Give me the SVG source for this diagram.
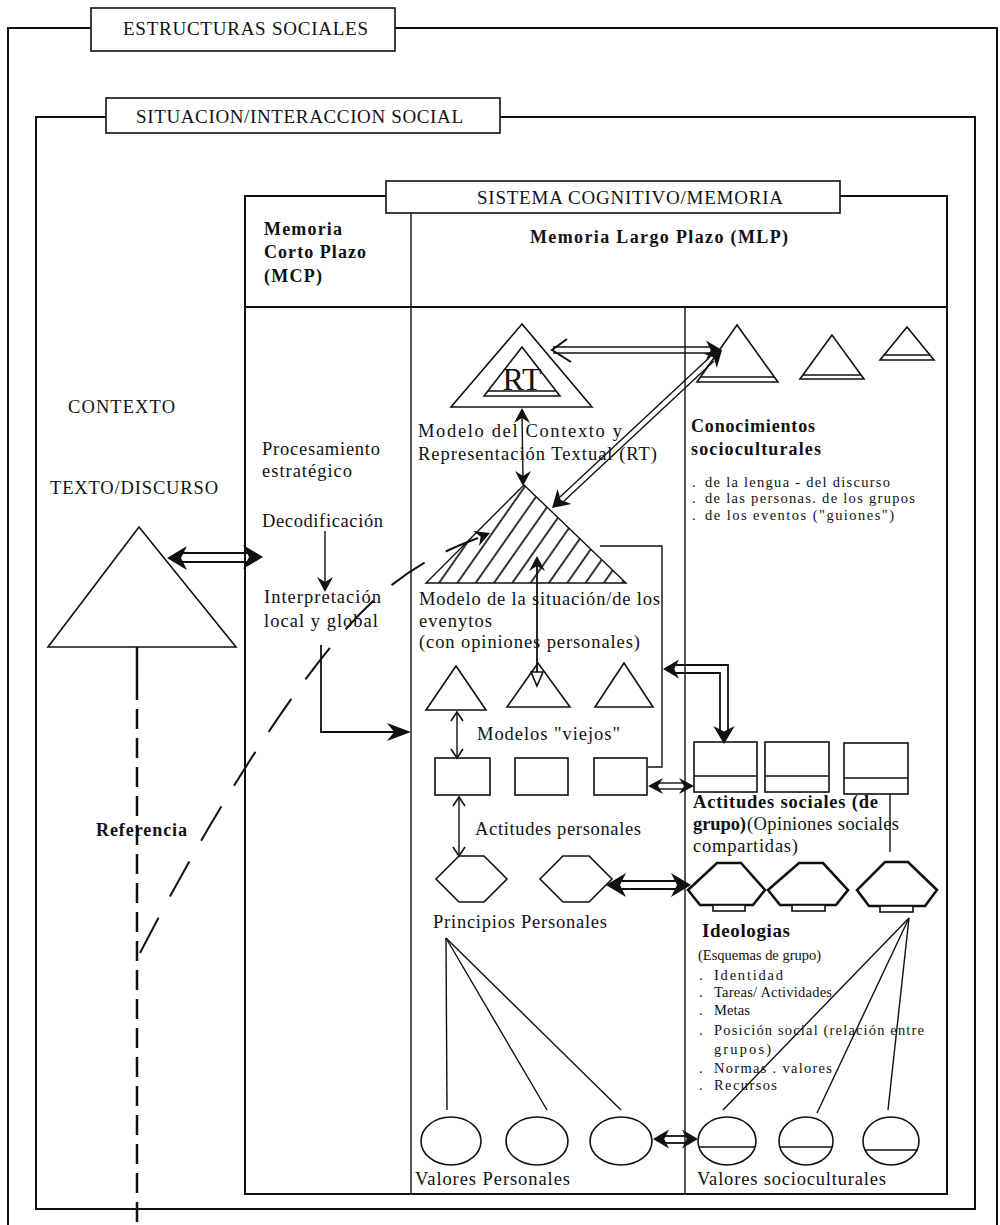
<svg xmlns="http://www.w3.org/2000/svg" xmlns:xlink="http://www.w3.org/1999/xlink" width="1000" height="1225" viewBox="0 0 1000 1225">
<style>
.fr{fill:none;stroke:#111;stroke-width:2}
.ln{fill:none;stroke:#111;stroke-width:1.4}
.ln2{fill:none;stroke:#111;stroke-width:1.8}
.sh{fill:#fff;stroke:#111;stroke-width:1.6}
.bx{fill:#fff;stroke:#111;stroke-width:1.6}
.hx{fill:#fff;stroke:#111;stroke-width:2.6}
.t{font-family:"Liberation Serif","Times New Roman",serif;fill:#111;font-size:18.5px}
.ti{font-size:19px}
.b{font-weight:bold}
.b17{font-size:18px}
.b18{font-size:18px}
.sm{font-size:14.5px}
.hd{fill:#111}
</style>
<defs>
<path id="hd" d="M0,0 L-20,-12 L-14,0 L-20,12 Z"/>
<path id="hs" d="M0,0 L-15,-8 L-10,0 L-15,8 Z"/>
<path id="hv" d="M-9,-6 L0,0 L-9,6" fill="none" stroke="#111" stroke-width="1.6"/>
<pattern id="hatch" patternUnits="userSpaceOnUse" width="15" height="15" patternTransform="rotate(35)">
<line x1="4" y1="0" x2="4" y2="15" stroke="#111" stroke-width="1.7"/>
</pattern>
</defs>
<rect width="1000" height="1225" fill="#fff"/>

<g id="frame-estructuras">
<path class="fr" d="M91,28 H8 V1225 M395,28 H997 V1225"/>
<rect class="bx" x="91" y="8" width="304" height="43"/>
<text class="t ti" x="123" y="35" textLength="245">ESTRUCTURAS SOCIALES</text>
</g>

<g id="frame-situacion">
<path class="fr" d="M106,117 H36 V1209 H975 V117 H500"/>
<rect class="bx" x="106" y="98" width="394" height="35"/>
<text class="t ti" x="136" y="123" textLength="327">SITUACION/INTERACCION SOCIAL</text>
</g>

<g id="frame-sistema">
<path class="fr" d="M386,196 H245 V1194 H947 V196 H840"/>
<line class="ln" x1="411" y1="213" x2="411" y2="1194"/>
<line class="ln2" x1="245" y1="307" x2="947" y2="307"/>
<line class="ln" x1="685" y1="307" x2="685" y2="1194"/>
<rect class="bx" x="386" y="181" width="454" height="32"/>
<text class="t ti" x="477" y="204" textLength="306">SISTEMA COGNITIVO/MEMORIA</text>
<text class="t b b17" x="264" y="235" textLength="78">Memoria</text>
<text class="t b b17" x="264" y="258" textLength="102">Corto Plazo</text>
<text class="t b b17" x="264" y="282" textLength="58">(MCP)</text>
<text class="t b b18" x="530" y="243" textLength="258">Memoria Largo Plazo (MLP)</text>
</g>

<g id="texto-discurso">
<text class="t" x="68" y="413" textLength="107">CONTEXTO</text>
<text class="t" x="50" y="494" textLength="168">TEXTO/DISCURSO</text>
<polygon class="sh" points="139,527 48,647 236,647"/>
<text class="t b b17" x="96" y="836" textLength="91">Referencia</text>
</g>

<g id="mcp">
<text class="t" x="262" y="455" textLength="118">Procesamiento</text>
<text class="t" x="262" y="477" textLength="90">estratégico</text>
<text class="t" x="262" y="527" textLength="121">Decodificación</text>
<text class="t" x="264" y="603" textLength="117">Interpretación</text>
<text class="t" x="264" y="627" textLength="114">local y global</text>
</g>

<g id="modelo-contexto">
<polygon class="sh" points="522,324 451,407 592,407" stroke-width="2"/>
<polygon class="sh" points="522,347 484,396 560,396"/>
<line class="ln" x1="488" y1="391" x2="556" y2="391"/>
<text class="t" x="522" y="390" style="font-size:32px" text-anchor="middle">RT</text>
<text class="t" x="418" y="437" textLength="204">Modelo del Contexto y</text>
<text class="t" x="418" y="460" textLength="239">Representación Textual (RT)</text>
</g>

<g id="conocimientos">
<polygon class="sh" points="737,325 697,382 778,382"/>
<line class="ln" x1="700" y1="377" x2="774" y2="377"/>
<polygon class="sh" points="832,335 800,379 864,379"/>
<line class="ln" x1="803" y1="375" x2="861" y2="375"/>
<polygon class="sh" points="907,327 880,360 934,360"/>
<line class="ln" x1="884" y1="355" x2="930" y2="355"/>
<text class="t b b18" x="691" y="432" textLength="124">Conocimientos</text>
<text class="t b b18" x="691" y="455" textLength="130">socioculturales</text>
<text class="t sm" x="692" y="487">.</text>
<text class="t sm" x="705" y="487" textLength="185">de la lengua - del discurso</text>
<text class="t sm" x="692" y="503">.</text>
<text class="t sm" x="705" y="503" textLength="210">de las personas. de los grupos</text>
<text class="t sm" x="692" y="520">.</text>
<text class="t sm" x="705" y="520" textLength="189">de los eventos ("guiones")</text>
</g>

<g id="modelo-situacion">
<polygon points="524,485 426,583 626,583" fill="url(#hatch)" stroke="#111" stroke-width="1.4"/>
<text class="t" x="419" y="605" textLength="241">Modelo de la situación/de los</text>
<text class="t" x="419" y="627" textLength="73">evenytos</text>
<text class="t" x="419" y="648" textLength="221">(con opiniones personales)</text>
</g>

<g id="modelos-viejos">
<polygon class="sh" points="456,666 426,710 486,710"/>
<polygon class="sh" points="538,663 507,707 570,707"/>
<polygon class="sh" points="624,663 595,707 653,707"/>
<text class="t" x="477" y="740" textLength="143">Modelos "viejos"</text>
<rect class="sh" x="435" y="758" width="55" height="37"/>
<rect class="sh" x="515" y="758" width="53" height="37"/>
<rect class="sh" x="594" y="758" width="53" height="37"/>
</g>

<g id="actitudes-sociales">
<rect class="sh" x="694" y="742" width="63" height="50"/>
<line class="ln" x1="694" y1="776" x2="757" y2="776"/>
<rect class="sh" x="765" y="742" width="64" height="50"/>
<line class="ln" x1="765" y1="776" x2="829" y2="776"/>
<rect class="sh" x="844" y="743" width="64" height="51"/>
<line class="ln" x1="844" y1="778" x2="908" y2="778"/>
<text class="t b" x="693" y="808" textLength="185">Actitudes sociales (de</text>
<text class="t b" x="693" y="830" textLength="53">grupo)</text>
<text class="t" x="747" y="830" textLength="152">(Opiniones sociales</text>
<text class="t" x="693" y="852" textLength="105">compartidas)</text>
</g>

<g id="actitudes-personales">
<text class="t" x="475" y="835" textLength="166">Actitudes personales</text>
</g>

<g id="principios">
<polygon class="sh" points="436,879 459,856 484,856 507,879 484,902 459,902"/>
<polygon class="sh" points="540,879 563,856 589,856 612,879 589,902 563,902"/>
<text class="t" x="433" y="928" textLength="174">Principios Personales</text>
</g>

<g id="ideologias">
<polygon class="hx" points="717,863 741,863 765,890 753,905 700,905 688,890"/>
<rect class="sh" x="713" y="905" width="32" height="6"/>
<polygon class="hx" points="799,863 823,863 848,890 836,905 780,905 768,890"/>
<rect class="sh" x="792" y="905" width="33" height="6"/>
<polygon class="hx" points="885,862 908,862 937,890 925,906 869,906 857,890"/>
<rect class="sh" x="880" y="906" width="33" height="6"/>
<text class="t b ti" x="702" y="937" textLength="88">Ideologias</text>
<text class="t sm" x="698" y="960" textLength="123">(Esquemas de grupo)</text>
<text class="t sm" x="699" y="980">.</text>
<text class="t sm" x="714" y="980" textLength="69">Identidad</text>
<text class="t sm" x="699" y="997">.</text>
<text class="t sm" x="714" y="997" textLength="118">Tareas/ Actividades</text>
<text class="t sm" x="699" y="1015">.</text>
<text class="t sm" x="714" y="1015" textLength="36">Metas</text>
<text class="t sm" x="699" y="1035">.</text>
<text class="t sm" x="714" y="1035" textLength="210">Posición social  (relación entre</text>
<text class="t sm" x="714" y="1054" textLength="57">grupos)</text>
<text class="t sm" x="699" y="1073">.</text>
<text class="t sm" x="714" y="1073" textLength="118">Normas . valores</text>
<text class="t sm" x="699" y="1090">.</text>
<text class="t sm" x="714" y="1090" textLength="63">Recursos</text>
</g>

<g id="valores-personales">
<ellipse class="sh" cx="451" cy="1141" rx="30" ry="24"/>
<ellipse class="sh" cx="537" cy="1141" rx="31" ry="24"/>
<ellipse class="sh" cx="621" cy="1141" rx="31" ry="24"/>
<text class="t" x="415" y="1185" textLength="155">Valores Personales</text>
</g>

<g id="valores-socioculturales">
<ellipse class="sh" cx="727" cy="1141" rx="29" ry="24"/>
<line class="ln" x1="699" y1="1147" x2="755" y2="1147"/>
<ellipse class="sh" cx="806" cy="1141" rx="27" ry="24"/>
<line class="ln" x1="780" y1="1147" x2="832" y2="1147"/>
<ellipse class="sh" cx="891" cy="1141" rx="28" ry="24"/>
<line class="ln" x1="865" y1="1150" x2="917" y2="1150"/>
<text class="t" x="697" y="1185" textLength="189">Valores socioculturales</text>
</g>

<g id="connectors">
<line x1="137" y1="647" x2="137" y2="680" stroke="#111" stroke-width="2.5"/>
<line x1="137" y1="680" x2="137" y2="1225" stroke="#111" stroke-width="2.5" stroke-dasharray="20 9"/>
<path d="M140,953 C175,885 235,775 305,680 S420,560 478,538" fill="none" stroke="#111" stroke-width="2" stroke-dasharray="40 24"/>
<use href="#hs" class="hd" transform="translate(490,533) rotate(-21.6)"/>
<line class="ln2" x1="182" y1="553" x2="248" y2="553"/>
<line class="ln2" x1="182" y1="562" x2="248" y2="562"/>
<use href="#hd" class="hd" transform="translate(167,558) rotate(180)"/>
<use href="#hd" class="hd" transform="translate(263,557)"/>
<line class="ln" x1="325" y1="531" x2="325" y2="582"/>
<use href="#hs" class="hd" transform="translate(325,592) rotate(90)"/>
<path class="ln2" d="M321,645 V732 H396"/>
<use href="#hd" class="hd" transform="translate(411,732) scale(1.2,0.75)"/>
<line class="ln" x1="553" y1="347" x2="712" y2="347"/>
<line class="ln" x1="553" y1="353" x2="712" y2="353"/>
<path d="M567,339 L552,350 L571,362" fill="none" stroke="#111" stroke-width="2"/>
<use href="#hd" class="hd" transform="translate(722,350) scale(0.8)"/>
<line class="ln" x1="564" y1="501" x2="714" y2="361"/>
<line class="ln" x1="560" y1="497" x2="710" y2="357"/>
<use href="#hd" class="hd" transform="translate(552,508) rotate(137.1) scale(0.85)"/>
<use href="#hd" class="hd" transform="translate(722,350) rotate(-42.9) scale(0.8)"/>
<line class="ln" x1="522" y1="414" x2="523" y2="478"/>
<use href="#hs" class="hd" transform="translate(522,408) rotate(-90)"/>
<use href="#hs" class="hd" transform="translate(523,486) rotate(90)"/>
<path class="ln" d="M600,546 H662 V767 H648"/>
<line class="ln2" x1="537" y1="564" x2="537" y2="680"/>
<use href="#hs" class="hd" transform="translate(537,556) rotate(-90)"/>
<polygon points="531,672 543,672 537,686" fill="#fff" stroke="#111" stroke-width="1.6"/>
<path class="ln2" d="M676,665 H728 V730"/>
<path class="ln2" d="M676,673 H720 V730"/>
<use href="#hd" class="hd" transform="translate(663,669) rotate(180) scale(0.8)"/>
<use href="#hd" class="hd" transform="translate(724,744) rotate(90) scale(0.9)"/>
<line class="ln" x1="457" y1="712" x2="457" y2="758"/>
<use href="#hv" transform="translate(457,712) rotate(-90)"/>
<use href="#hv" transform="translate(457,758) rotate(90)"/>
<line class="ln" x1="656" y1="783" x2="686" y2="783"/>
<line class="ln" x1="656" y1="789" x2="686" y2="789"/>
<use href="#hs" class="hd" transform="translate(648,786) rotate(180)"/>
<use href="#hs" class="hd" transform="translate(694,786)"/>
<line class="ln" x1="459" y1="797" x2="459" y2="856"/>
<use href="#hv" transform="translate(459,797) rotate(-90)"/>
<use href="#hv" transform="translate(459,856) rotate(90)"/>
<line class="ln2" x1="620" y1="881" x2="677" y2="881"/>
<line class="ln2" x1="620" y1="889" x2="677" y2="889"/>
<use href="#hd" class="hd" transform="translate(606,885) rotate(180)"/>
<use href="#hd" class="hd" transform="translate(691,885)"/>
<line class="ln" x1="890" y1="794" x2="890" y2="852"/>
<line class="ln" x1="909" y1="918" x2="723" y2="1110"/>
<line class="ln" x1="909" y1="918" x2="817" y2="1113"/>
<line class="ln" x1="909" y1="918" x2="888" y2="1110"/>
<line class="ln" x1="446" y1="938" x2="447" y2="1110"/>
<line class="ln" x1="446" y1="938" x2="547" y2="1110"/>
<line class="ln" x1="446" y1="938" x2="621" y2="1110"/>
<line class="ln2" x1="664" y1="1136" x2="687" y2="1136"/>
<line class="ln2" x1="664" y1="1143" x2="687" y2="1143"/>
<use href="#hd" class="hd" transform="translate(653,1139) rotate(180) scale(0.8)"/>
<use href="#hd" class="hd" transform="translate(698,1139) scale(0.8)"/>
</g>
</svg>
